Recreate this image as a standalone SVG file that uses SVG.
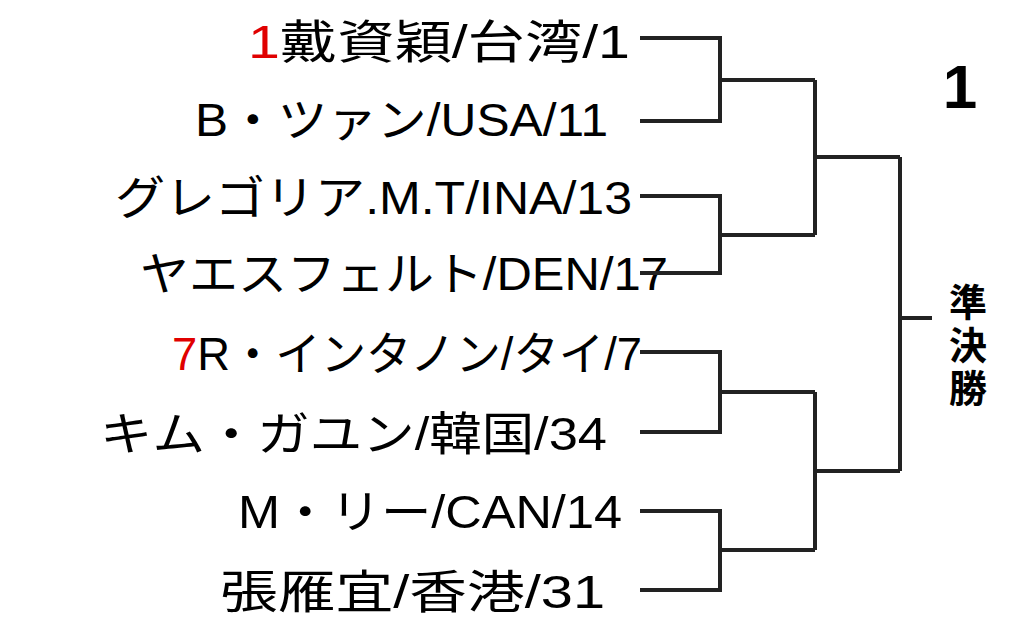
<svg xmlns="http://www.w3.org/2000/svg" width="1024" height="644" viewBox="0 0 1024 644">
<style>
.n{font-family:"Liberation Sans","Noto Sans CJK JP",sans-serif;font-size:46px;fill:#000}
.r{fill:#e00000}
.c path{fill:none;stroke:#222;stroke-width:4}
.t{font-family:"Liberation Sans","Noto Sans CJK JP",sans-serif;font-weight:bold;fill:#000;text-anchor:middle}
</style>
<rect width="1024" height="644" fill="#fff"/>
<g id="p1"><text class="n" x="248" y="58" textLength="382" lengthAdjust="spacingAndGlyphs"><tspan class="r">1</tspan>戴資穎/台湾/1</text></g>
<g id="p2"><text class="n" x="195" y="136" textLength="413" lengthAdjust="spacingAndGlyphs">B・ツァン/USA/11</text></g>
<g id="p3"><text class="n" x="115" y="214" textLength="517" lengthAdjust="spacingAndGlyphs">グレゴリア.M.T/INA/13</text></g>
<g id="p4"><text class="n" x="140" y="290" textLength="528" lengthAdjust="spacingAndGlyphs">ヤエスフェルト/DEN/17</text></g>
<g id="p5"><text class="n" x="172" y="370" textLength="470" lengthAdjust="spacingAndGlyphs"><tspan class="r">7</tspan>R・インタノン/タイ/7</text></g>
<g id="p6"><text class="n" x="100" y="450" textLength="507" lengthAdjust="spacingAndGlyphs">キム・ガユン/韓国/34</text></g>
<g id="p7"><text class="n" x="238" y="528" textLength="384" lengthAdjust="spacingAndGlyphs">M・リー/CAN/14</text></g>
<g id="p8"><text class="n" x="220" y="608" textLength="385" lengthAdjust="spacingAndGlyphs">張雁宜/香港/31</text></g>
<g id="label"><text class="t" x="960" y="108" font-size="62">1</text>
<text class="t" x="968" y="316" font-size="38">準</text>
<text class="t" x="968" y="359" font-size="38">決</text>
<text class="t" x="968" y="402" font-size="38">勝</text></g>
<g class="c" id="connectors">
<path d="M640 38H720V121H640M720 80H815"/>
<path d="M640 196H720V273H640M720 235H815"/>
<path d="M640 352H720V432H640M720 392H815"/>
<path d="M640 511H720V590H640M720 550H815"/>
<path d="M815 80V235M815 157H900"/>
<path d="M815 392V550M815 471H900"/>
<path d="M900 157V471M900 318H932"/>
</g>
</svg>
